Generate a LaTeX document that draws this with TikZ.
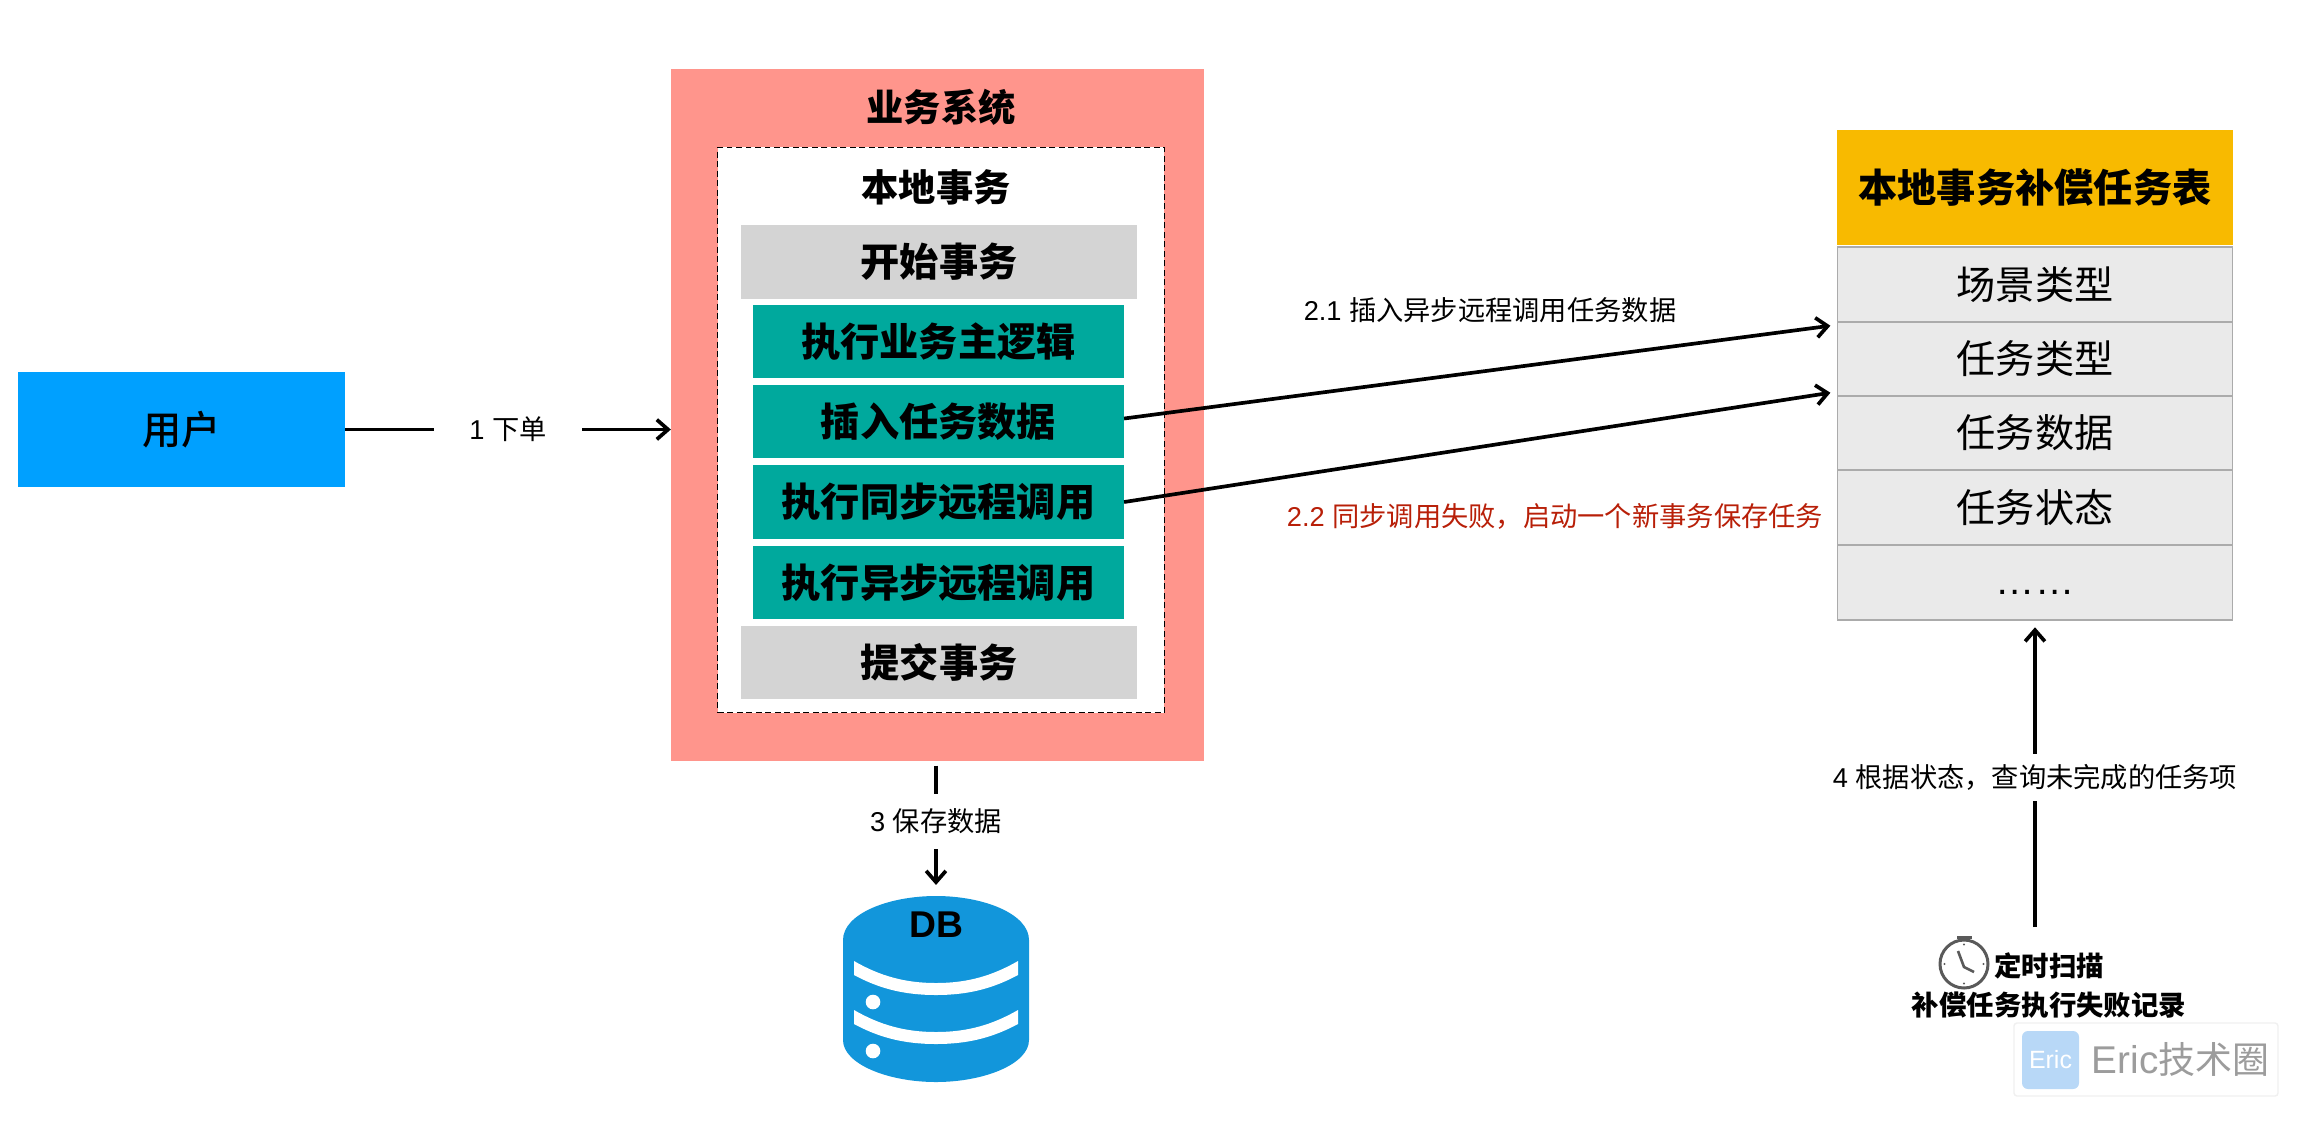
\documentclass[tikz,border=0pt]{standalone}
\usepackage{fontspec}
\setmainfont{Liberation Sans}
\newfontfamily\cjk{Noto Sans CJK SC}
\newfontfamily\cjkmed{Noto Sans CJK SC Medium}
\usetikzlibrary{arrows.meta}
\newcommand{\zh}[1]{{\cjk #1}}
\definecolor{syspink}{HTML}{FF958C}
\definecolor{taskteal}{HTML}{00A99D}
\definecolor{stepgray}{HTML}{D4D4D4}
\definecolor{userblue}{HTML}{00A0FF}
\definecolor{headyellow}{HTML}{F8BA00}
\definecolor{rowgray}{HTML}{EAEAEA}
\definecolor{rowline}{HTML}{ABABAB}
\definecolor{dbblue}{HTML}{1296DB}
\definecolor{failred}{HTML}{B81F08}
\definecolor{clockgray}{HTML}{5A5A5A}
\definecolor{markblue}{HTML}{B8D8F7}
\definecolor{markgray}{HTML}{9C9C9C}
\tikzset{
  box/.style={inner sep=0pt,outer sep=0pt,align=center},
  big/.style={font=\fontsize{11.15}{13}\selectfont\cjk},
  bigbold/.style={font=\fontsize{11.15}{13}\selectfont\cjk\bfseries},
  mid/.style={font=\fontsize{10.6}{12}\selectfont\cjk\bfseries},
  small/.style={font=\fontsize{7.75}{9}\selectfont},
  smallbold/.style={font=\fontsize{7.8}{9}\selectfont\cjk\bfseries},
  taskbox/.style={box,bigbold,fill=taskteal,minimum width=3.71cm,minimum height=0.73cm},
  stepbox/.style={box,bigbold,fill=stepgray,minimum width=3.96cm,minimum height=0.73cm},
  rowbox/.style={box,big,draw=rowline,line width=0.45pt,fill=rowgray,minimum width=3.95cm,minimum height=0.745cm},
  flow/.style={line width=1.05pt,-{Straight Barb[length=3.2pt,width=5.6pt,line width=1.05pt]}},
  onflow/.style={box,small,fill=white}
}
\begin{document}
\begin{tikzpicture}[x=0.01cm,y=-0.01cm]
  \useasboundingbox (0,0) rectangle (2302,1120);
  % user
  \node[box,font=\fontsize{11.15}{13}\selectfont\cjkmed,fill=userblue,minimum width=3.27cm,minimum height=1.15cm] (user) at (181.5,429.5) {用户};
  % business system
  \node[box,fill=syspink,minimum width=5.33cm,minimum height=6.91cm] (sys) at (937.5,415) {};
  \node[box,mid] (systitle) at (941,107) {业务系统};
  \node[box,draw=black,dash pattern=on 1.7pt off 1pt,line width=0.3pt,fill=white,minimum width=4.46cm,minimum height=5.65cm] (local) at (941,430) {};
  \node[box,mid] (localtitle) at (936,187) {本地事务};
  \node[stepbox] (begin) at (939,262) {开始事务};
  \node[taskbox] (logic) at (938.5,341.5) {执行业务主逻辑};
  \node[taskbox] (insert) at (938.5,421.5) {插入任务数据};
  \node[taskbox] (sync) at (938.5,502) {执行同步远程调用};
  \node[taskbox] (async) at (938.5,582.5) {执行异步远程调用};
  \node[stepbox] (commit) at (939,662.5) {提交事务};
  % task table
  \node[box,bigbold,fill=headyellow,minimum width=3.96cm,minimum height=1.155cm] (head) at (2035,187.3) {本地事务补偿任务表};
  \node[rowbox] (rowscene) at (2035,284.5) {场景类型};
  \node[rowbox] (rowtype) at (2035,359) {任务类型};
  \node[rowbox] (rowdata) at (2035,433) {任务数据};
  \node[rowbox] (rowstate) at (2035,507.7) {任务状态};
  \node[rowbox,font=\fontsize{11.15}{13}\selectfont] (rowmore) at (2035,582.5) {\smash{\raisebox{-3.5pt}{……}}};
  % database
  \fill[dbblue] (843,940) .. controls (843,914) and (888,896) .. (936,896) .. controls (984,896) and (1029,914) .. (1029,940) -- (1029,1040) .. controls (1029,1064) and (984,1082) .. (936,1082) .. controls (888,1082) and (843,1064) .. (843,1040) -- cycle;
  \foreach \dy in {0,49}{
    \begin{scope}[shift={(0,\dy)}]
      \fill[white] (854,961) .. controls (880,976) and (905,983) .. (936,983) .. controls (967,983) and (992,976) .. (1018,961) -- (1018,975) .. controls (992,989) and (967,995) .. (936,995) .. controls (905,995) and (880,989) .. (854,975) -- cycle;
      \fill[white] (873,1002) circle (7.3);
    \end{scope}
  }
  \node[box,minimum width=1.86cm,minimum height=1.86cm] (db) at (936,989) {};
  \node[box,font=\fontsize{10.6}{12}\selectfont\bfseries] (dbname) at (936,925) {DB};
  % timer
  \draw[clockgray,line width=0.85pt] (1964,964) circle (24);
  \draw[clockgray,line width=0.85pt] (1957,937) -- (1972,937) (1964,937) -- (1964,940);
  \draw[clockgray,line width=0.75pt] (1958,951) -- (1964,967) -- (1974,972);
  \foreach \a in {0,90,180,270}{
    \fill[clockgray] (1964,964) ++(\a:19.5) circle (1.2);
  }
  \node[box,smallbold] (timer) at (2049,966) {定时扫描};
  \node[box,smallbold] (scanrec) at (2049,1005) {补偿任务执行失败记录};
  \coordinate (scan) at (2035,927);
  % connectors
  \draw[flow] (user.east) -- node[onflow,minimum width=1.48cm] (order) {1 \zh{下单}} (user.east -| sys.west);
  \draw[flow] ([yshift=0.03cm]insert.east) -- ([xshift=-0.07cm,yshift=-0.04cm]rowtype.north west);
  \draw[flow] (sync.east) -- ([xshift=-0.07cm,yshift=0.03cm]rowdata.north west);
  \draw[flow,shorten <=0.05cm,shorten >=0.11cm] (db.north |- sys.south) -- node[onflow,pos=0.45,minimum height=0.55cm] (save) {3 \zh{保存数据}} (db.north);
  \draw[flow,shorten >=0.075cm] (scan) -- node[onflow,pos=0.488,minimum height=0.47cm] (query) {4 \zh{根据状态，查询未完成的任务项}} (rowmore.south);
  \node[box,small] (label21) at (1490,310.5) {2.1 \zh{插入异步远程调用任务数据}};
  \node[box,small,text=failred] (label22) at (1555,516) {2.2 \zh{同步调用失败，启动一个新事务保存任务}};
  % watermark
  \draw[draw=black!6,fill=white,rounded corners=0.03cm,line width=0.4pt] (2014,1023) rectangle (2278,1096);
  \fill[markblue,rounded corners=0.06cm] (2022,1031) rectangle (2079,1089);
  \node[box,text=white,font=\fontsize{7.1}{9}\selectfont] (logo) at (2050.5,1060) {Eric};
  \node[box,text=markgray,font=\fontsize{11}{13}\selectfont] (mark) at (2180.5,1059) {Eric{\cjk\fontsize{10.5}{13}\selectfont 技术圈}};
\end{tikzpicture}
\end{document}
